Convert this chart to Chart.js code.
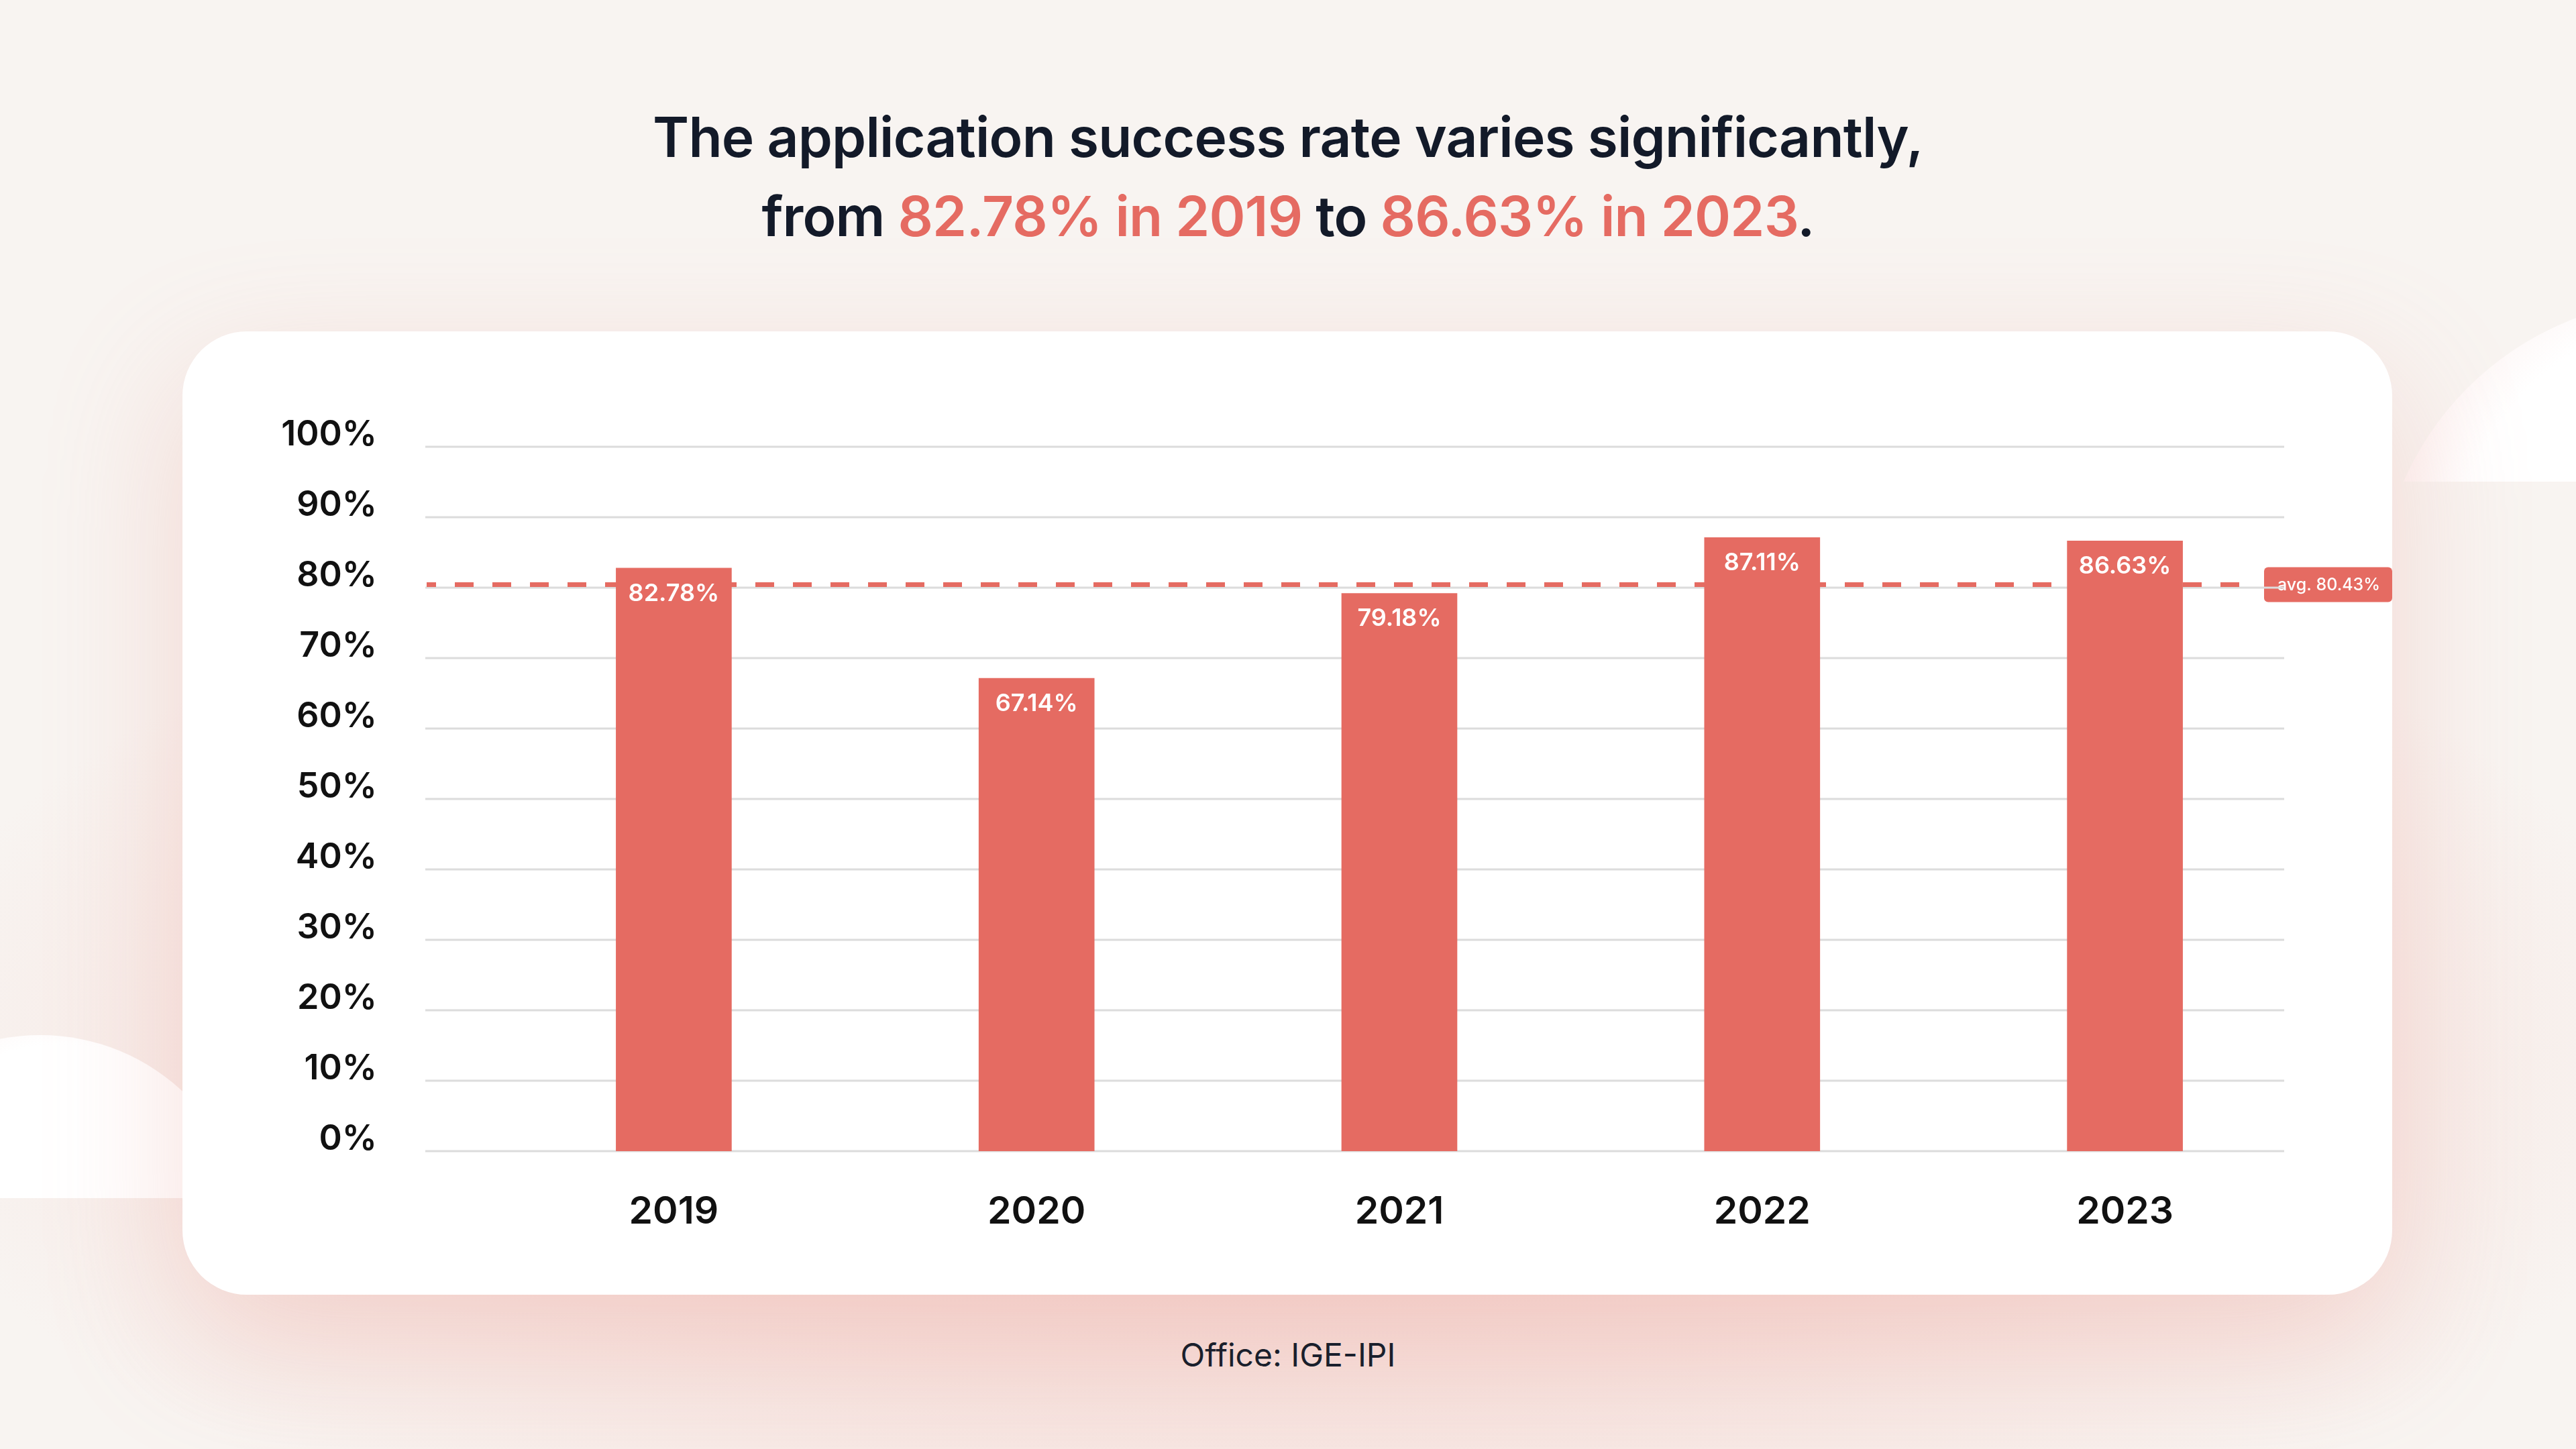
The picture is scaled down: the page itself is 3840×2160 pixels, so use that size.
<!DOCTYPE html>
<html>
<head>
<meta charset="utf-8">
<script src="https://cdn.jsdelivr.net/npm/chart.js@4.4.1/dist/chart.umd.min.js"></script>
<style>
  html, body { margin: 0; padding: 0; }
  body {
    width: 3840px; height: 2160px; overflow: hidden; position: relative;
    background: #f8f4f1;
    font-family: Inter, "Noto Sans", sans-serif;
  }
  .glow {
    position: absolute; left: -200px; top: 700px; width: 4240px; height: 1600px;
    background: radial-gradient(ellipse at 50% 55%, rgba(243,200,194,0.85) 0%, rgba(245,214,209,0.6) 40%, rgba(248,244,241,0) 70%);
  }
  .cloud { position: absolute; overflow: hidden; }
  .cloud div {
    position: absolute; border-radius: 50%;
    background: radial-gradient(circle at 55% 45%, #ffffff 55%, #fcf1f0 75%, #f6dedb 100%);
  }
  .card {
    position: absolute; left: 272px; top: 494px; width: 3294px; height: 1436px;
    background: #fff; border-radius: 96px;
    box-shadow: 0 70px 200px rgba(232,150,140,0.30);
  }
  .title {
    position: absolute; left: 0; top: 146px; width: 3840px; text-align: center;
    font-size: 82px; line-height: 118px; font-weight: 600; color: #131a29;
    letter-spacing: -0.8px;
  }
  .title span { color: #e56b62; }
  .source {
    position: absolute; left: 0; top: 1991px; width: 3840px; text-align: center;
    font-size: 48px; line-height: 58px; color: #1a1f2c;
  }
  canvas { position: absolute; left: 0; top: 0; }
</style>
</head>
<body>
<div class="glow"></div>
<div class="cloud" style="left:3400px; top:380px; width:440px; height:338px;"><div style="left:145px; top:65px; width:910px; height:910px;"></div></div>
<div class="cloud" style="left:0; top:1450px; width:320px; height:336px;"><div style="left:-250px; top:93px; width:620px; height:620px;"></div></div>
<div class="card"></div>
<div class="title">The application success rate varies significantly,<br>from <span>82.78% in 2019</span> to <span>86.63% in 2023</span>.</div>
<div class="source">Office: IGE-IPI</div>
<canvas id="chart" width="3840" height="2160" style="width:3840px;height:2160px"></canvas>
<script>
// chart data
const years = ["2019", "2020", "2021", "2022", "2023"];
const successRate = [82.78, 67.14, 79.18, 87.11, 86.63];
const avgRate = 80.43;
const yTickStep = 10;

const RED = "#e56b62";

// grid lines run wider than the bar area, so draw them from the y scale ticks
const gridAndAvg = {
  id: "gridAndAvg",
  beforeDatasetsDraw(chart) {
    const { ctx } = chart;
    const y = chart.scales.y;
    const ay = y.getPixelForValue(avgRate);
    ctx.save();

    // avg tag
    ctx.fillStyle = RED;
    ctx.beginPath();
    ctx.roundRect(3375, ay - 26, 191, 52, 6);
    ctx.fill();
    ctx.fillStyle = "#fff";
    ctx.font = "500 25px Inter";
    ctx.textBaseline = "middle";
    ctx.textAlign = "left";
    ctx.fillText("avg. " + avgRate.toFixed(2) + "%", 3395, ay + 1);

    // grid
    ctx.strokeStyle = "#dcdcdc";
    ctx.lineWidth = 3;
    y.ticks.forEach((t) => {
      const py = y.getPixelForValue(t.value);
      ctx.beginPath();
      ctx.moveTo(634, py);
      ctx.lineTo(3405, py);
      ctx.stroke();
    });

    // avg dashed line
    ctx.strokeStyle = RED;
    ctx.lineWidth = 7;
    ctx.setLineDash([28, 28]);
    ctx.lineDashOffset = 14;
    ctx.beginPath();
    ctx.moveTo(636, ay);
    ctx.lineTo(3364, ay);
    ctx.stroke();
    ctx.restore();
  },
  afterDatasetsDraw(chart) {
    const { ctx } = chart;
    const meta = chart.getDatasetMeta(0);
    ctx.save();
    ctx.fillStyle = "#fff";
    ctx.font = "600 36px Inter";
    ctx.textAlign = "center";
    ctx.textBaseline = "middle";
    meta.data.forEach((bar, i) => {
      ctx.fillText(successRate[i].toFixed(2) + "%", bar.x, bar.y + 38);
    });
    ctx.restore();
  },
};

Chart.defaults.font.family = "Inter";

new Chart(document.getElementById("chart"), {
  type: "bar",
  data: {
    labels: years,
    datasets: [
      {
        label: "Success rate",
        data: successRate,
        backgroundColor: RED,
        barThickness: 172,
      },
    ],
  },
  options: {
    responsive: false,
    devicePixelRatio: 1,
    animation: false,
    layout: { padding: { left: 300, right: 402, top: 666, bottom: 200 } },
    plugins: {
      legend: { display: false },
      tooltip: { enabled: false },
    },
    scales: {
      x: {
        grid: { display: false, drawTicks: false },
        border: { display: false },
        ticks: {
          color: "#111",
          font: { size: 57, weight: "600" },
          padding: 57,
        },
        afterFit: (scale) => { scale.height = 244; },
      },
      y: {
        min: 0,
        max: 100,
        grid: { display: false, drawTicks: false },
        border: { display: false },
        ticks: {
          stepSize: yTickStep,
          color: "#111",
          font: { size: 52, weight: "600" },
          padding: 172,
          labelOffset: -18,
          callback: (v) => v + "%",
        },
        afterFit: (scale) => { scale.width = 434; },
      },
    },
  },
  plugins: [gridAndAvg],
});
</script>
</body>
</html>
